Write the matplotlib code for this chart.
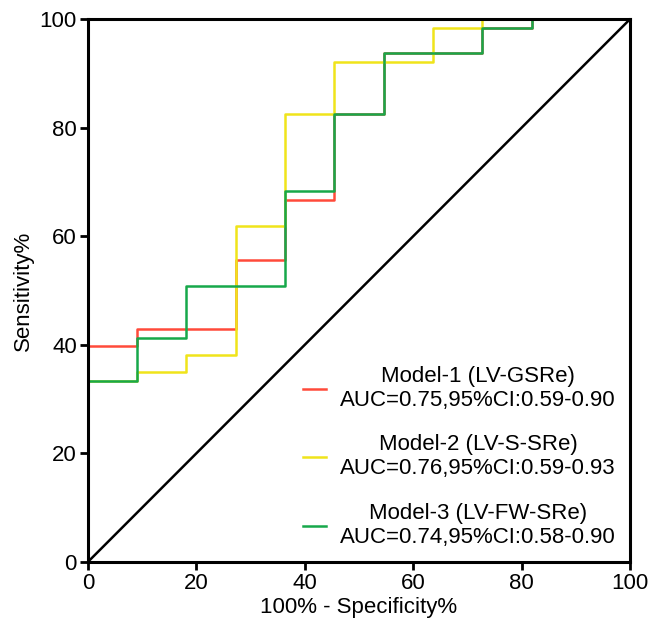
import numpy as np
import matplotlib.pyplot as plt

plt.rcParams['font.family'] = ['Liberation Sans', 'DejaVu Sans']

# 1 - specificity (%) and sensitivity (%) for each step of the ROC curves
fpr1 = [0, 0, 9.09, 9.09, 27.27, 27.27, 36.36, 36.36, 45.45, 45.45, 54.55, 54.55, 72.73, 72.73, 81.82, 81.82, 100]
tpr1 = [0, 39.7, 39.7, 42.9, 42.9, 55.6, 55.6, 66.7, 66.7, 82.5, 82.5, 93.7, 93.7, 98.4, 98.4, 100, 100]

fpr2 = [0, 0, 9.09, 9.09, 18.18, 18.18, 27.27, 27.27, 36.36, 36.36, 45.45, 45.45, 63.64, 63.64, 72.73, 72.73, 100]
tpr2 = [0, 33.3, 33.3, 34.9, 34.9, 38.1, 38.1, 61.9, 61.9, 82.5, 82.5, 92.1, 92.1, 98.4, 98.4, 100, 100]

fpr3 = [0, 0, 9.09, 9.09, 18.18, 18.18, 36.36, 36.36, 45.45, 45.45, 54.55, 54.55, 72.73, 72.73, 81.82, 81.82, 100]
tpr3 = [0, 33.3, 33.3, 41.3, 41.3, 50.8, 50.8, 68.3, 68.3, 82.5, 82.5, 93.7, 93.7, 98.4, 98.4, 100, 100]

labels = ["Model-1 (LV-GSRe)\nAUC=0.75,95%CI:0.59-0.90",
          "Model-2 (LV-S-SRe)\nAUC=0.76,95%CI:0.59-0.93",
          "Model-3 (LV-FW-SRe)\nAUC=0.74,95%CI:0.58-0.90"]
colors = ['#ff4a3a', '#f0e41a', '#17a84a']

fig = plt.figure(figsize=(6.51, 6.23), dpi=100)
ax = fig.add_axes([0.135, 0.098, 0.833, 0.8715])

ax.plot([0, 100], [0, 100], color='black', lw=1.8)
ax.plot(fpr1, tpr1, color=colors[0], lw=1.8, label=labels[0])
ax.plot(fpr2, tpr2, color=colors[1], lw=1.8, label=labels[1])
ax.plot(fpr3, tpr3, color=colors[2], lw=1.8, label=labels[2])

ax.set_xlim(0, 100)
ax.set_ylim(0, 100)
ax.set_xticks(np.arange(0, 101, 20))
ax.set_yticks(np.arange(0, 101, 20))
for s in ax.spines.values():
    s.set_linewidth(2.2)
ax.tick_params(direction='out', length=6, width=2, labelsize=16, pad=2)
ax.set_xlabel("100% - Specificity%", fontsize=16, labelpad=2)
ax.set_ylabel("Sensitivity%", fontsize=16, labelpad=4)

leg = ax.legend(loc='lower right', bbox_to_anchor=(1.0, 0.0), frameon=False,
                fontsize=16, handlelength=1.05, handletextpad=0.65,
                labelspacing=1.05, borderaxespad=0.23)
for t in leg.get_texts():
    t.set_multialignment('center')

fig.savefig("out.png", dpi=100)
